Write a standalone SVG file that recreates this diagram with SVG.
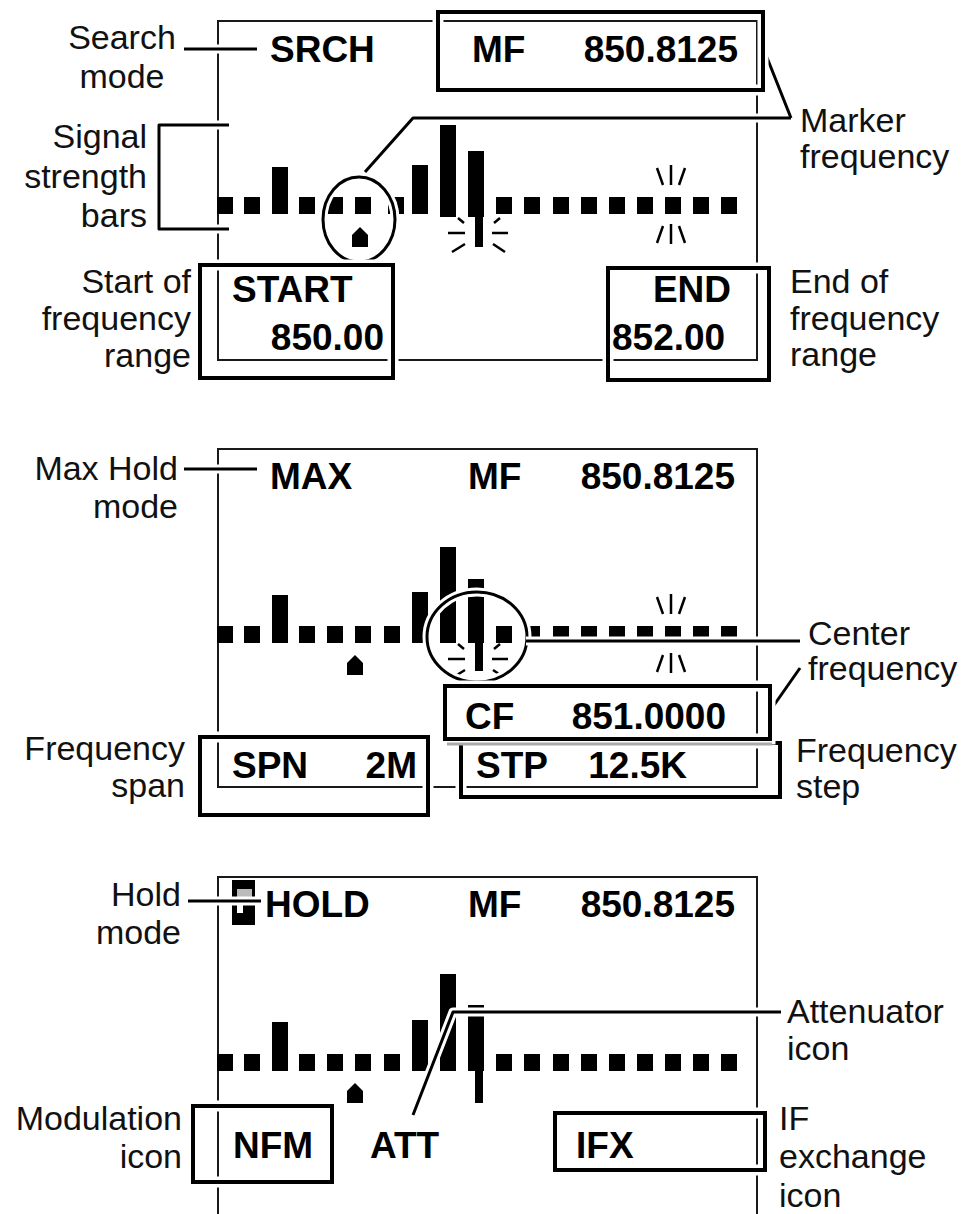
<svg xmlns="http://www.w3.org/2000/svg" xmlns:xlink="http://www.w3.org/1999/xlink" width="964" height="1214" viewBox="0 0 964 1214">
<defs>
<style>
.frame{fill:none;stroke:#1a1a1a;stroke-width:2}
.bx{fill:none;stroke:#000;stroke-width:4}
.bxh{fill:none;stroke:#fff;stroke-width:11}
.ln{fill:none;stroke:#000;stroke-width:3;stroke-linejoin:round}
.lnh{fill:none;stroke:#fff;stroke-width:9;stroke-linejoin:round}
.cir{fill:none;stroke:#000;stroke-width:3}
.cirh{fill:none;stroke:#fff;stroke-width:9}
.spk{fill:none;stroke:#000;stroke-width:2.5}
.lbl{font-family:"Liberation Sans",Arial,sans-serif;font-size:34px;fill:#111}
.lcd{font-family:"Liberation Sans",Arial,sans-serif;font-size:37px;font-weight:bold;fill:#000}
.e{text-anchor:end}
.m{text-anchor:middle}
</style>
<rect id="sq" width="16" height="17" fill="#000"/>
<path id="mk" d="M-8,20V8L0,0L8,8V20Z" fill="#000"/>
<path id="burst" d="M-31,16H-14M13,16H29M-27,35L-14,27M14,27L26,35M-21,1L-15,6M15,6L21,1" class="spk"/>
<path id="sparkUp" d="M-14,-29L-8,-12M0,-32V-12M14,-29L8,-12" class="spk"/>
<path id="sparkDn" d="M-8,12L-14,29M0,10V30M8,12L14,29" class="spk"/>
</defs>
<rect width="964" height="1214" fill="#fff"/>

<!-- ============ PANEL 1: SEARCH ============ -->
<g id="screen1">
<rect class="frame" x="218" y="21" width="539" height="339"/>
<g id="bars1">
<use href="#sq" x="217" y="197"/><use href="#sq" x="244" y="197"/>
<rect x="272" y="167" width="16" height="47"/>
<use href="#sq" x="299" y="197"/><use href="#sq" x="327" y="197"/><use href="#sq" x="355" y="197"/><use href="#sq" x="388" y="197"/>
<rect x="412" y="165" width="16" height="49"/>
<rect x="440" y="125" width="16" height="92"/>
<rect x="468" y="151" width="16" height="66"/>
<rect x="475" y="214" width="8" height="33"/>
<use href="#sq" x="496" y="197"/><use href="#sq" x="524" y="197"/><use href="#sq" x="553" y="197"/><use href="#sq" x="581" y="197"/><use href="#sq" x="609" y="197"/><use href="#sq" x="637" y="197"/><use href="#sq" x="665" y="197"/><use href="#sq" x="693" y="197"/><use href="#sq" x="721" y="197"/>
<use href="#burst" x="479" y="217"/>
<use href="#sparkUp" x="671" y="197"/>
<use href="#sparkDn" x="671" y="214"/>
<use href="#mk" x="360" y="227"/>
</g>
<g id="marker-circle1">
<ellipse class="cirh" cx="359" cy="219.5" rx="36" ry="42.5"/>
<ellipse class="cir" cx="359" cy="219.5" rx="36" ry="42.5"/>
</g>
</g>

<!-- ============ PANEL 2: MAX HOLD ============ -->
<g id="screen2">
<rect class="frame" x="218" y="449" width="539" height="338"/>
<g id="bars2">
<use href="#sq" x="217" y="626"/><use href="#sq" x="244" y="626"/>
<rect x="272" y="595" width="16" height="48"/>
<use href="#sq" x="299" y="626"/><use href="#sq" x="327" y="626"/><use href="#sq" x="355" y="626"/><use href="#sq" x="384" y="626"/>
<rect x="412" y="592" width="16" height="51"/>
<rect x="440" y="547" width="16" height="96"/>
<rect x="468" y="579" width="16" height="64"/>
<rect x="475" y="643" width="8" height="28"/>
<use href="#sq" x="496" y="626"/><use href="#sq" x="524" y="626"/><use href="#sq" x="553" y="626"/><use href="#sq" x="581" y="626"/><use href="#sq" x="609" y="626"/><use href="#sq" x="637" y="626"/><use href="#sq" x="665" y="626"/><use href="#sq" x="693" y="626"/><use href="#sq" x="721" y="626"/>
<use href="#burst" x="479" y="643"/>
<use href="#sparkUp" x="671" y="626"/>
<use href="#sparkDn" x="671" y="643"/>
<use href="#mk" x="355" y="655"/>
</g>
<g id="center-circle2">
<ellipse class="cirh" cx="477" cy="637" rx="50" ry="45"/>
<ellipse class="cir" cx="477" cy="637" rx="50" ry="45"/>
</g>
</g>

<!-- ============ PANEL 3: HOLD ============ -->
<g id="screen3">
<path class="frame" d="M218,1216V877H757V1216"/>
<g id="bars3">
<use href="#sq" x="217" y="1054"/><use href="#sq" x="244" y="1054"/>
<rect x="272" y="1022" width="16" height="49"/>
<use href="#sq" x="299" y="1054"/><use href="#sq" x="327" y="1054"/><use href="#sq" x="355" y="1054"/><use href="#sq" x="384" y="1054"/>
<rect x="412" y="1020" width="16" height="51"/>
<rect x="440" y="974" width="16" height="97"/>
<rect x="468" y="1005" width="16" height="66"/>
<rect x="475" y="1071" width="8" height="32"/>
<use href="#sq" x="496" y="1054"/><use href="#sq" x="524" y="1054"/><use href="#sq" x="553" y="1054"/><use href="#sq" x="581" y="1054"/><use href="#sq" x="609" y="1054"/><use href="#sq" x="637" y="1054"/><use href="#sq" x="665" y="1054"/><use href="#sq" x="693" y="1054"/><use href="#sq" x="721" y="1054"/>
<use href="#mk" x="355" y="1083"/>
</g>
<g id="hold-icon">
<rect x="232" y="880" width="23" height="45" fill="#000"/>
<rect x="237" y="889" width="15" height="8" fill="#bbb"/>
<rect x="237" y="905" width="6" height="8" fill="#fff"/>
</g>
</g>

<!-- ============ CONNECTORS ============ -->
<g id="connectors">
<path class="lnh" d="M184,49H257"/><path class="ln" d="M184,49H257"/>
<path class="lnh" d="M229,125H159V229H229"/><path class="ln" d="M229,125H159V229H229"/>
<path class="lnh" d="M365,172L413,118H791M766,55L791,118"/><path class="ln" d="M365,172L413,118H791M766,55L791,118"/>
<path class="lnh" d="M184,469H257"/><path class="ln" d="M184,469H257"/>
<path class="lnh" d="M526,641H800"/><path class="ln" d="M526,641H800"/>
<path class="lnh" d="M772,708L800,668"/><path class="ln" d="M772,708L800,668"/>
<path class="lnh" d="M188,901H261"/><path class="ln" d="M188,901H261"/>
<path class="lnh" d="M413,1115L453,1012H781"/><path class="ln" d="M413,1115L453,1012H781"/>
</g>

<!-- ============ DISPLAY BOXES ============ -->
<g id="box-mf1"><rect class="bxh" x="438" y="12" width="325" height="78"/><rect class="bx" x="438" y="12" width="325" height="78"/></g>
<g id="box-start"><rect class="bxh" x="200" y="265" width="193" height="113"/><rect class="bx" x="200" y="265" width="193" height="113"/></g>
<g id="box-end"><rect class="bxh" x="608" y="268" width="161" height="112"/><rect class="bx" x="608" y="268" width="161" height="112"/></g>
<g id="box-spn"><rect class="bxh" x="200" y="737" width="228" height="78"/><rect class="bx" x="200" y="737" width="228" height="78"/></g>
<g id="box-stp"><rect class="bxh" x="461" y="743" width="319" height="54"/><rect class="bx" x="461" y="743" width="319" height="54"/></g>
<g id="box-cf"><rect class="bxh" x="445" y="686" width="325" height="53"/><rect class="bx" x="445" y="686" width="325" height="53"/><path d="M447,744H772" stroke="#aaa" stroke-width="3"/></g>
<g id="box-nfm"><rect class="bxh" x="193" y="1106" width="139" height="76"/><rect class="bx" x="193" y="1106" width="139" height="76"/></g>
<g id="box-ifx"><rect class="bxh" x="555" y="1113" width="210" height="57"/><rect class="bx" x="555" y="1113" width="210" height="57"/></g>

<!-- ============ DISPLAY TEXT ============ -->
<g id="lcd-text">
<text class="lcd" x="270" y="62">SRCH</text>
<text class="lcd" x="472" y="62">MF</text>
<text class="lcd e" x="738" y="62">850.8125</text>
<text class="lcd" x="232" y="302">START</text>
<text class="lcd e" x="384" y="350">850.00</text>
<text class="lcd e" x="731" y="302">END</text>
<text class="lcd" x="612" y="350">852.00</text>

<text class="lcd" x="270" y="489">MAX</text>
<text class="lcd" x="468" y="489">MF</text>
<text class="lcd e" x="735" y="489">850.8125</text>
<text class="lcd" x="465" y="729">CF</text>
<text class="lcd e" x="726" y="729">851.0000</text>
<text class="lcd" x="232" y="778">SPN</text>
<text class="lcd e" x="417" y="778">2M</text>
<text class="lcd" x="476" y="778">STP</text>
<text class="lcd e" x="687" y="778">12.5K</text>

<text class="lcd" x="265" y="917">HOLD</text>
<text class="lcd" x="468" y="917">MF</text>
<text class="lcd e" x="735" y="917">850.8125</text>
<text class="lcd" x="233" y="1158">NFM</text>
<text class="lcd" x="370" y="1158">ATT</text>
<text class="lcd" x="576" y="1158">IFX</text>
</g>

<!-- ============ CALLOUT LABELS ============ -->
<g id="label-search-mode"><text class="lbl m" x="122" y="49">Search</text><text class="lbl m" x="122" y="88">mode</text></g>
<g id="label-signal"><text class="lbl e" x="147" y="148">Signal</text><text class="lbl e" x="147" y="188">strength</text><text class="lbl e" x="147" y="227">bars</text></g>
<g id="label-start"><text class="lbl e" x="191" y="293">Start of</text><text class="lbl e" x="191" y="330">frequency</text><text class="lbl e" x="191" y="367">range</text></g>
<g id="label-marker"><text class="lbl" x="800" y="132">Marker</text><text class="lbl" x="800" y="168">frequency</text></g>
<g id="label-end"><text class="lbl" x="790" y="293">End of</text><text class="lbl" x="790" y="330">frequency</text><text class="lbl" x="790" y="366">range</text></g>

<g id="label-maxhold"><text class="lbl e" x="178" y="480">Max Hold</text><text class="lbl e" x="178" y="518">mode</text></g>
<g id="label-center"><text class="lbl" x="808" y="645">Center</text><text class="lbl" x="808" y="680">frequency</text></g>
<g id="label-span"><text class="lbl e" x="185" y="760">Frequency</text><text class="lbl e" x="185" y="797">span</text></g>
<g id="label-step"><text class="lbl" x="796" y="762">Frequency</text><text class="lbl" x="796" y="798">step</text></g>

<g id="label-hold"><text class="lbl e" x="181" y="906">Hold</text><text class="lbl e" x="181" y="944">mode</text></g>
<g id="label-att"><text class="lbl" x="787" y="1023">Attenuator</text><text class="lbl" x="787" y="1060">icon</text></g>
<g id="label-mod"><text class="lbl e" x="182" y="1130">Modulation</text><text class="lbl e" x="182" y="1168">icon</text></g>
<g id="label-ifx"><text class="lbl" x="779" y="1130">IF</text><text class="lbl" x="779" y="1168">exchange</text><text class="lbl" x="779" y="1207">icon</text></g>
</svg>
